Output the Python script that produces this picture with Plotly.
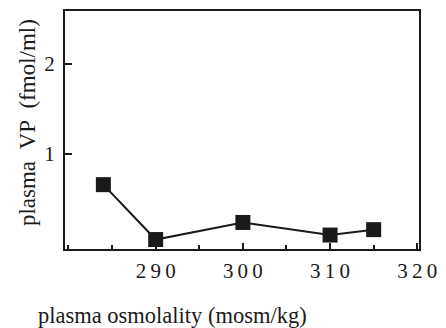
import plotly.graph_objects as go

# Data
osmolality = [284, 290, 300, 310, 315]
plasma_vp = [0.66, 0.05, 0.24, 0.10, 0.16]

x_tick_vals = [290, 300, 310, 320]
x_tick_text = ["2\u20099\u20090", "3\u20090\u20090", "3\u20091\u20090", "3\u20092\u20090"]
y_tick_vals = [1, 2]
y_tick_text = ["1", "2"]

x_title = "plasma osmolality (mosm/kg)"
y_title = "plasma\u00a0\u00a0VP\u00a0\u00a0(fmol/ml)"

FONT = "Liberation Serif, Times New Roman, serif"
INK = "#1a1a1a"

fig = go.Figure()
fig.add_trace(go.Scatter(
    x=osmolality, y=plasma_vp, mode="lines+markers",
    line=dict(color=INK, width=2),
    marker=dict(symbol="square", size=15, color=INK),
    showlegend=False,
))

fig.update_layout(
    width=446, height=328,
    margin=dict(l=65, r=23, t=9, b=79),
    paper_bgcolor="white", plot_bgcolor="white",
    font=dict(family=FONT, color=INK, size=21),
    xaxis=dict(
        range=[279.6, 320.2], tickmode="array",
        tickvals=x_tick_vals, ticktext=x_tick_text,
        ticks="inside", ticklen=6, tickwidth=1.5, tickcolor=INK,
        minor=dict(ticks="inside", ticklen=4, tickwidth=1.5, tickcolor=INK, dtick=5, tick0=285),
        showline=True, linecolor=INK, linewidth=2, mirror=True,
        showgrid=False, zeroline=False,
        tickfont=dict(size=21), ticklabelstandoff=2,
    ),
    yaxis=dict(
        range=[-0.055, 2.59], tickmode="array",
        tickvals=y_tick_vals, ticktext=y_tick_text,
        ticks="inside", ticklen=7, tickwidth=1.5, tickcolor=INK,
        showline=True, linecolor=INK, linewidth=2, mirror=True,
        showgrid=False, zeroline=False,
        tickfont=dict(size=21), ticklabelstandoff=4,
    ),
    annotations=[
        dict(text=x_title, xref="paper", yref="paper", x=0.303, y=-0.279,
             showarrow=False, font=dict(size=22.5, family=FONT, color=INK),
             xanchor="center", yanchor="middle"),
        dict(text=y_title, xref="paper", yref="paper", x=-0.106, y=0.531,
             showarrow=False, textangle=-90, font=dict(size=23, family=FONT, color=INK),
             xanchor="center", yanchor="middle"),
    ],
)

fig.write_html(
    "out.html",
    config={"displayModeBar": False},
    post_script="document.body.style.margin='0';document.body.style.overflow='hidden';",
)
